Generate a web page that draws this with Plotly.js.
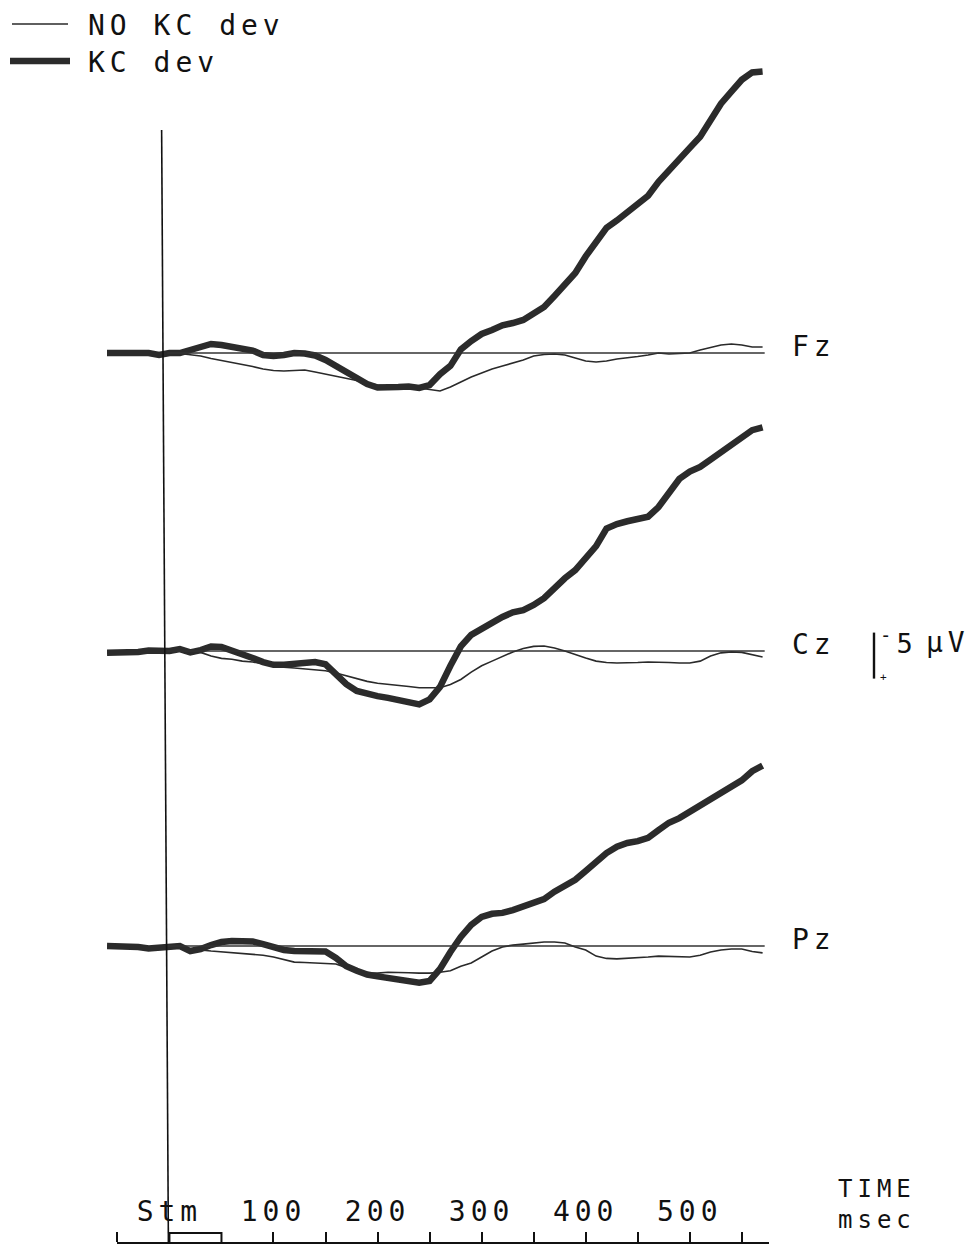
<!DOCTYPE html>
<html><head><meta charset="utf-8">
<script src="https://cdn.plot.ly/plotly-3.0.1.min.js"></script>
<style>
html,body{margin:0;padding:0;background:#fff;}
#chart{width:975px;height:1247px;}
text{letter-spacing:5px;}
</style></head><body><div id="chart"></div>
<script>
// ---- data (µV, negative plotted upward) ----
const timeMs = [-60,-50,-40,-30,-20,-10,0,10,20,30,40,50,60,70,80,90,100,110,120,130,140,150,160,170,180,190,200,210,220,230,240,250,260,270,280,290,300,310,320,330,340,350,360,370,380,390,400,410,420,430,440,450,460,470,480,490,500,510,520,530,540,550,560,570];

const fzNoKC = [0,0,0,-0.05,0,0.22,0,0.05,0.16,0.33,0.6,0.82,0.98,1.2,1.47,1.74,1.9,1.96,1.9,1.85,2.07,2.28,2.5,2.77,2.99,3.26,3.48,3.59,3.7,3.75,3.8,3.97,4.13,3.7,3.15,2.61,2.17,1.74,1.41,1.09,0.76,0.33,0.16,0.11,0.22,0.54,0.87,0.98,0.87,0.65,0.54,0.38,0.22,0,0.11,0.05,0,-0.33,-0.6,-0.87,-0.98,-0.87,-0.65,-0.65];
const fzKC = [0,0,0,-0.05,0,0.22,0,0,-0.33,-0.65,-0.98,-0.87,-0.71,-0.54,-0.27,0.22,0.33,0.22,0,0.05,0.27,0.76,1.41,2.07,2.72,3.37,3.75,3.8,3.7,3.64,3.8,3.48,2.3,1.4,-0.38,-1.3,-2.07,-2.5,-3.0,-3.26,-3.59,-4.29,-5.0,-6.2,-7.4,-8.7,-10.5,-11.96,-13.6,-14.4,-15.3,-16.0,-17.1,-18.6,-19.9,-21.2,-22.3,-23.5,-25.3,-27.1,-28.4,-29.7,-30.5,-30.6];

const czNoKC = [0.2,0.2,0.15,0.1,-0.05,0,0,-0.1,0,0.15,0.55,0.8,0.9,1.1,1.2,1.4,1.6,1.75,1.85,1.95,2.05,2.15,2.4,2.7,3.05,3.3,3.5,3.6,3.7,3.85,4.0,4.0,4.0,3.65,3.1,2.3,1.6,1.1,0.6,0.1,-0.27,-0.5,-0.55,-0.33,0,0.4,0.76,1.1,1.25,1.3,1.3,1.25,1.2,1.2,1.25,1.3,1.3,1.1,0.55,0.2,0.1,0.15,0.4,0.65];
const czKC = [0.2,0.2,0.15,0.1,-0.05,0,0,-0.2,0.15,-0.1,-0.5,-0.45,-0.1,0.33,0.76,1.2,1.5,1.5,1.4,1.2,1.2,1.45,2.5,3.6,4.35,4.7,4.9,5.1,5.3,5.65,5.8,5.25,3.9,1.6,-0.5,-1.75,-2.5,-3.05,-3.7,-4.2,-4.45,-5.0,-5.75,-6.85,-7.9,-8.8,-10.0,-11.4,-13.3,-13.8,-14.1,-14.35,-14.6,-15.65,-17.1,-18.7,-19.5,-20.0,-20.8,-21.6,-22.6,-23.3,-24.0,-24.3];

const pzNoKC = [0,0,0.05,0.1,0.27,0.2,0.1,0,0.43,0.43,0.55,0.65,0.75,0.8,0.87,1.0,1.2,1.45,1.75,1.8,1.85,1.85,1.95,2.35,2.6,2.95,2.95,2.85,2.85,2.9,2.95,2.95,2.85,2.7,2.2,1.85,1.2,0.55,0.1,-0.1,-0.2,-0.33,-0.43,-0.43,-0.33,0.1,0.43,1.1,1.35,1.4,1.35,1.3,1.2,1.1,1.15,1.2,1.2,1.0,0.65,0.43,0.33,0.33,0.6,0.75];
const pzKC = [0,0,0.05,0.1,0.27,0.2,0.1,0,0.55,0.33,-0.1,-0.43,-0.55,-0.55,-0.5,-0.2,0.2,0.43,0.55,0.55,0.55,0.6,1.3,2.2,2.7,3.1,3.3,3.5,3.65,3.85,4.0,3.8,2.5,0.65,-0.98,-2.3,-3.15,-3.5,-3.6,-3.9,-4.25,-4.7,-5.1,-5.9,-6.6,-7.2,-8.15,-9.1,-10.1,-10.8,-11.2,-11.4,-11.75,-12.6,-13.4,-13.9,-14.6,-15.2,-15.9,-16.5,-17.2,-18.0,-19.0,-19.6];

const channels = ['Fz','Cz','Pz'];
const seriesNames = ['NO KC dev','KC dev'];
const rulerLabelVals = [0,100,200,300,400,500];
const rulerLabelText = ['Stm','100','200','300','400','500'];
const rulerMinorVals = [-50,50,150,250,350,450,550];
const calibLabel = '<sup>-</sup>5';
const unitLabel = 'µV';
const timeLabel = 'TIME<br>msec';

// ---- geometry ----
const W=975, H=1247, ML=107, MR=202, MT=0, MB=4;
const PW=W-ML-MR, PH=H-MT-MB;
const X_RANGE=[-60,580];
const PX_PER_UV=9.2;
const px2x = px => (px-ML)/PW;
const py2y = py => (H-MB-py)/PH;
const t2paper = t => (t-X_RANGE[0])/(X_RANGE[1]-X_RANGE[0]);

const FONT = 'DejaVu Sans Mono';
const FS = 28;
const INK = '#111';
const TXT = {family:FONT, size:FS, color:INK};

const panels = [
  {name:channels[0], base:353, top:40,  bot:410,  thin:fzNoKC, thick:fzKC, ax:'y',  key:'yaxis'},
  {name:channels[1], base:651, top:410, bot:720,  thin:czNoKC, thick:czKC, ax:'y2', key:'yaxis2'},
  {name:channels[2], base:946, top:720, bot:1100, thin:pzNoKC, thick:pzKC, ax:'y3', key:'yaxis3'}
];

const traces = [];
const layout = {
  width:W, height:H, margin:{l:ML,r:MR,t:MT,b:MB},
  paper_bgcolor:'#fff', plot_bgcolor:'rgba(0,0,0,0)',
  showlegend:false,
  font:{family:FONT, size:FS, color:INK},
  xaxis:{range:X_RANGE, domain:[0,1], anchor:'y3', visible:false, fixedrange:true},
  xaxis2:{range:[-50,576], domain:[t2paper(-50), t2paper(576)], anchor:'free', position:0, side:'top',
    showline:true, linewidth:2, linecolor:INK, ticks:'outside', ticklen:10, tickwidth:2, tickcolor:INK,
    tickmode:'array', tickvals:rulerLabelVals, ticktext:rulerLabelText, showgrid:false, zeroline:false,
    minor:{tickmode:'array', tickvals:rulerMinorVals, ticks:'outside', ticklen:10, tickwidth:2, tickcolor:INK, showgrid:false},
    tickfont:TXT, fixedrange:true},
  shapes:[], annotations:[]
};

panels.forEach(p => {
  layout[p.key] = {domain:[py2y(p.bot), py2y(p.top)],
    range:[(p.bot-p.base)/PX_PER_UV, (p.top-p.base)/PX_PER_UV],
    visible:false, fixedrange:true, anchor:'x'};
  layout.shapes.push({type:'line', xref:'x', yref:p.ax, x0:-2, x1:572, y0:0, y1:0,
    line:{color:'#333', width:1.6}});
  traces.push({x:timeMs, y:p.thin, xaxis:'x', yaxis:p.ax, mode:'lines', name:seriesNames[0],
    line:{color:'#2a2a2a', width:1.6}, hoverinfo:'skip'});
  traces.push({x:timeMs, y:p.thick, xaxis:'x', yaxis:p.ax, mode:'lines', name:seriesNames[1],
    line:{color:'#2b2b2b', width:6.5}, hoverinfo:'skip'});
  layout.annotations.push({text:p.name, xref:'paper', yref:p.ax, x:px2x(790), y:-0.7,
    xanchor:'left', yanchor:'middle', showarrow:false, font:TXT});
});

// dummy trace carrying the time ruler axis
traces.push({x:rulerLabelVals, y:rulerLabelVals.map(()=>0), xaxis:'x2', yaxis:'y3', mode:'markers',
  marker:{opacity:0}, hoverinfo:'skip', showlegend:false});

// stimulus line
layout.shapes.push({type:'line', xref:'x', yref:'paper', x0:-7.5, x1:-1, y0:py2y(130), y1:py2y(1243),
  line:{color:INK, width:1.6}});
// stimulus box on time ruler
layout.shapes.push({type:'rect', xref:'x', yref:'paper', x0:0, x1:50, y0:py2y(1243), y1:py2y(1233),
  line:{color:INK, width:2}, fillcolor:'#fff'});

// calibration bar at Cz
layout.shapes.push({type:'line', xref:'paper', yref:'y2', x0:px2x(874), x1:px2x(874), y0:-2, y1:3,
  line:{color:INK, width:2.4}});
layout.annotations.push({text:calibLabel, xref:'paper', yref:'y2', x:px2x(878), y:-1.0, xanchor:'left', yanchor:'middle',
  showarrow:false, font:{family:FONT, size:27, color:INK}});
layout.annotations.push({text:'+', xref:'paper', yref:'y2', x:px2x(878), y:2.9, xanchor:'left', yanchor:'middle',
  showarrow:false, font:{family:FONT, size:11, color:INK}});
layout.annotations.push({text:unitLabel, xref:'paper', yref:'y2', x:px2x(924), y:-0.9, xanchor:'left', yanchor:'middle',
  showarrow:false, font:TXT});

// TIME / msec
layout.annotations.push({text:timeLabel, xref:'paper', yref:'paper', x:px2x(836), y:py2y(1204), xanchor:'left', yanchor:'middle',
  showarrow:false, align:'left', font:{family:FONT, size:24, color:INK}});

// legend (top-left)
layout.shapes.push({type:'line', xref:'paper', yref:'paper', x0:px2x(12), x1:px2x(68), y0:py2y(24), y1:py2y(24),
  line:{color:'#2a2a2a', width:1.6}});
layout.shapes.push({type:'line', xref:'paper', yref:'paper', x0:px2x(10), x1:px2x(70), y0:py2y(61), y1:py2y(61),
  line:{color:'#2b2b2b', width:6.5}});
layout.annotations.push({text:seriesNames[0], xref:'paper', yref:'paper', x:px2x(86), y:py2y(25), xanchor:'left', yanchor:'middle',
  showarrow:false, font:TXT});
layout.annotations.push({text:seriesNames[1], xref:'paper', yref:'paper', x:px2x(86), y:py2y(63), xanchor:'left', yanchor:'middle',
  showarrow:false, font:TXT});

Plotly.newPlot('chart', traces, layout, {displayModeBar:false, staticPlot:true});
</script></body></html>
